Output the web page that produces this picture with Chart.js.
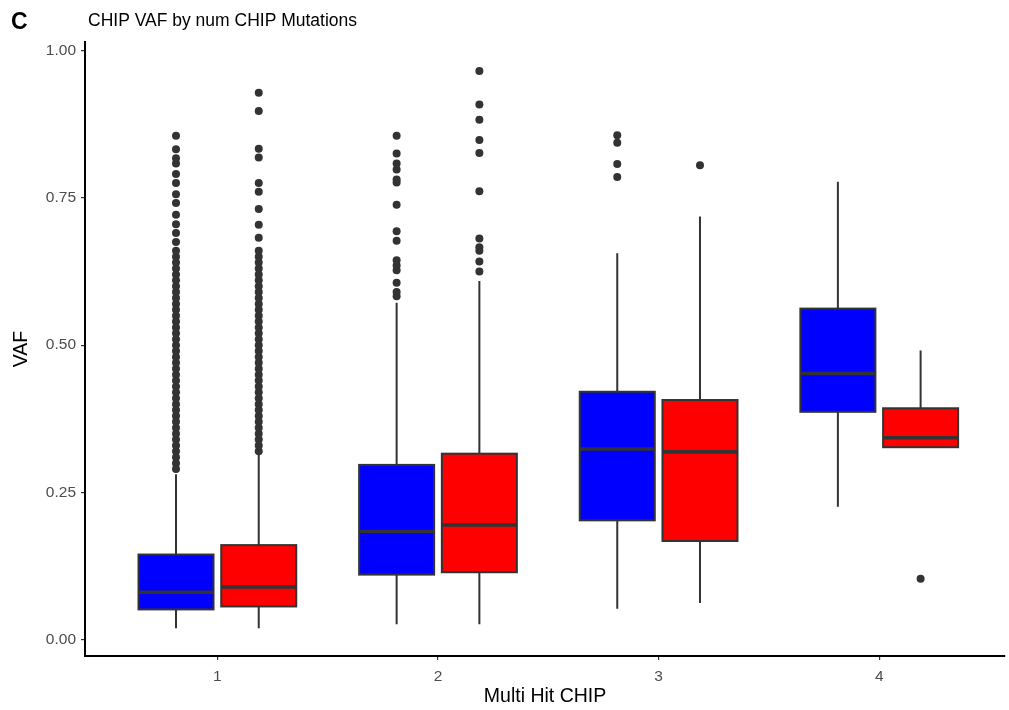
<!DOCTYPE html>
<html>
<head>
<meta charset="utf-8">
<script src="https://cdn.jsdelivr.net/npm/chart.js@4.4.1/dist/chart.umd.min.js"></script>
<style>
  body { margin: 0; background: #fff; }
  canvas { display: block; }
</style>
</head>
<body>
<canvas id="chart" width="1009" height="710"></canvas>
<script>
// groups on the x axis (number of CHIP mutations)
const groups = [1, 2, 3, 4];
const xTicks = [1, 2, 3, 4];
const yTicks = [0, 0.25, 0.5, 0.75, 1];

// blue boxes: lower whisker, Q1, median, Q3, upper whisker
const blueLow = [0.020, 0.027, 0.053, 0.226];
const blueQ1 = [0.052, 0.111, 0.203, 0.387];
const blueMed = [0.081, 0.184, 0.324, 0.452];
const blueQ3 = [0.145, 0.297, 0.421, 0.562];
const blueHigh = [0.281, 0.572, 0.656, 0.777];

// red boxes
const redLow = [0.020, 0.027, 0.063, 0.327];
const redQ1 = [0.057, 0.115, 0.168, 0.327];
const redMed = [0.090, 0.195, 0.319, 0.343];
const redQ3 = [0.161, 0.316, 0.407, 0.393];
const redHigh = [0.317, 0.609, 0.718, 0.491];

// outliers per group
const blueOut = [
  [0.29, 0.30, 0.31, 0.32, 0.33, 0.34, 0.35, 0.36, 0.37, 0.38, 0.39, 0.40,
   0.41, 0.42, 0.43, 0.44, 0.45, 0.46, 0.47, 0.48, 0.49, 0.50, 0.51, 0.52,
   0.53, 0.54, 0.55, 0.56, 0.57, 0.58, 0.59, 0.60, 0.61, 0.62, 0.63, 0.64,
   0.65, 0.66, 0.675, 0.69, 0.705, 0.721, 0.741, 0.756, 0.775, 0.790,
   0.808, 0.817, 0.832, 0.855],
  [0.583, 0.590, 0.606, 0.627, 0.635, 0.644, 0.677, 0.693, 0.738, 0.776,
   0.781, 0.798, 0.808, 0.825, 0.855],
  [0.785, 0.807, 0.843, 0.856],
  []
];
const redOut = [
  [0.32, 0.33, 0.34, 0.35, 0.36, 0.37, 0.38, 0.39, 0.40, 0.41, 0.42, 0.43,
   0.44, 0.45, 0.46, 0.47, 0.48, 0.49, 0.50, 0.51, 0.52, 0.53, 0.54, 0.55,
   0.56, 0.57, 0.58, 0.59, 0.60, 0.61, 0.62, 0.63, 0.64, 0.65, 0.66, 0.682,
   0.704, 0.731, 0.760, 0.775, 0.818, 0.833, 0.897, 0.928],
  [0.625, 0.642, 0.660, 0.666, 0.681, 0.761, 0.826, 0.848, 0.882, 0.908, 0.965],
  [0.805],
  [0.104]
];

const DODGE = 0.1875;   // half of the dodge width
const HALF_BOX = 0.17;  // half box width in x units
const INK = '#333333';
const FONT = '"Liberation Sans", Arial, sans-serif';

const series = [
  { offset: -DODGE, fill: '#0000FF', low: blueLow, q1: blueQ1, med: blueMed, q3: blueQ3, high: blueHigh, out: blueOut },
  { offset: DODGE, fill: '#FF0000', low: redLow, q1: redQ1, med: redMed, q3: redQ3, high: redHigh, out: redOut }
];

function outlierPoints(s) {
  const pts = [];
  groups.forEach((g, i) => {
    s.out[i].forEach(v => pts.push({ x: g + s.offset, y: v }));
  });
  return pts;
}

const boxPlugin = {
  id: 'boxes',
  beforeDatasetsDraw(chart) {
    const { ctx, scales: { x, y } } = chart;
    ctx.save();
    series.forEach(s => {
      groups.forEach((g, i) => {
        const cx = x.getPixelForValue(g + s.offset);
        const l = x.getPixelForValue(g + s.offset - HALF_BOX);
        const r = x.getPixelForValue(g + s.offset + HALF_BOX);
        const yLow = y.getPixelForValue(s.low[i]);
        const yQ1 = y.getPixelForValue(s.q1[i]);
        const yMed = y.getPixelForValue(s.med[i]);
        const yQ3 = y.getPixelForValue(s.q3[i]);
        const yHigh = y.getPixelForValue(s.high[i]);

        ctx.strokeStyle = INK;
        ctx.lineWidth = 2;
        ctx.beginPath();
        ctx.moveTo(cx, yHigh); ctx.lineTo(cx, yQ3);
        ctx.moveTo(cx, yQ1); ctx.lineTo(cx, yLow);
        ctx.stroke();

        ctx.fillStyle = s.fill;
        ctx.fillRect(l, yQ3, r - l, yQ1 - yQ3);
        ctx.strokeRect(l, yQ3, r - l, yQ1 - yQ3);

        ctx.lineWidth = 3.6;
        ctx.beginPath();
        ctx.moveTo(l, yMed); ctx.lineTo(r, yMed);
        ctx.stroke();
      });
    });
    ctx.restore();
  }
};

const titlePlugin = {
  id: 'titles',
  afterDraw(chart) {
    const ctx = chart.ctx;
    ctx.save();
    ctx.fillStyle = '#000';
    ctx.textBaseline = 'alphabetic';
    ctx.font = 'bold 23px ' + FONT;
    ctx.fillText('C', 11, 29);
    ctx.font = '17.5px ' + FONT;
    ctx.fillText('CHIP VAF by num CHIP Mutations', 88, 26);
    ctx.restore();
  }
};

new Chart(document.getElementById('chart'), {
  type: 'scatter',
  data: {
    datasets: series.map(s => ({
      data: outlierPoints(s),
      pointRadius: 4,
      pointHoverRadius: 4,
      pointBackgroundColor: INK,
      pointBorderWidth: 0
    }))
  },
  options: {
    responsive: false,
    animation: false,
    layout: { padding: { top: 42, right: -4, bottom: 0, left: 0 } },
    plugins: { legend: { display: false }, tooltip: { enabled: false } },
    scales: {
      x: {
        type: 'linear',
        min: 0.4,
        max: 4.57,
        afterBuildTicks: axis => { axis.ticks = xTicks.map(v => ({ value: v })); },
        afterFit: axis => { axis.height = 54; },
        grid: { drawOnChartArea: false, drawTicks: true, tickLength: 4, color: INK, lineWidth: 1.2 },
        border: { display: true, color: '#000', width: 2 },
        ticks: { color: '#4D4D4D', font: { size: 15.5, family: FONT }, padding: 7, maxRotation: 0 },
        title: { display: true, text: 'Multi Hit CHIP', color: '#000', font: { size: 19.5, family: FONT }, padding: { top: 0, bottom: 2 } }
      },
      y: {
        min: -0.027,
        max: 1.014,
        afterBuildTicks: axis => { axis.ticks = yTicks.map(v => ({ value: v })); },
        afterFit: axis => { axis.width = 85; },
        grid: { drawOnChartArea: false, drawTicks: true, tickLength: 4, color: INK, lineWidth: 1.2 },
        border: { display: true, color: '#000', width: 2 },
        ticks: { color: '#4D4D4D', font: { size: 15.5, family: FONT }, padding: 5, callback: v => v.toFixed(2) },
        title: { display: true, text: 'VAF', color: '#000', font: { size: 19.5, family: FONT }, padding: { top: 10, bottom: 0 } }
      }
    }
  },
  plugins: [boxPlugin, titlePlugin]
});
</script>
</body>
</html>
